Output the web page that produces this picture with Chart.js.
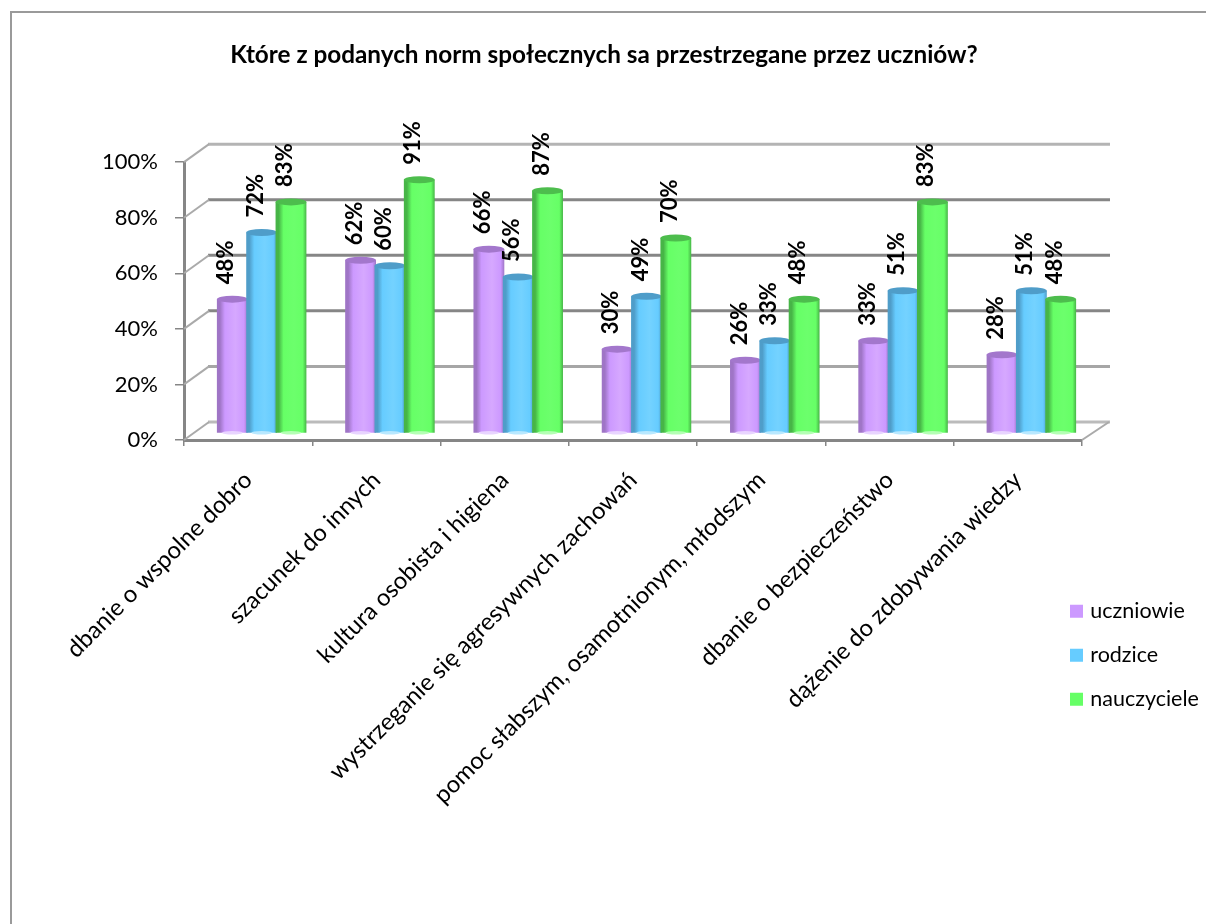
<!DOCTYPE html>
<html lang="pl"><head><meta charset="utf-8">
<style>html,body{margin:0;padding:0;background:#fff}canvas{display:block}</style>
<script src="https://cdn.jsdelivr.net/npm/chart.js@4"></script>
</head><body><canvas id="c" width="1206" height="924"></canvas>
<script>
const categories = ["dbanie o wspolne dobro","szacunek do innych","kultura osobista i higiena","wystrzeganie się agresywnych zachowań","pomoc słabszym, osamotnionym, młodszym","dbanie o bezpieczeństwo","dążenie do zdobywania wiedzy"];
const uczniowie = [48,62,66,30,26,33,28];
const rodzice = [72,60,56,49,33,51,51];
const nauczyciele = [83,91,87,70,48,83,48];
const seriesNames = ["uczniowie","rodzice","nauczyciele"];
const baseColors = ["#CC99FF","#66CCFF","#66FF66"];
const sideColors = ["#9F75C6","#4F9DC9","#47B547"];
const topColors = ["#A377CC","#4F9DC9","#4DBD4D"];
const lightColors = ["#D6A8FF","#74D2FF","#6CFF6C"];
const paleColors = ["#E8D4FF","#B8E8FF","#B4FFB4"];
const title = "Które z podanych norm społecznych sa przestrzegane przez uczniów?";
const yTicks = [0,20,40,60,80,100];
const gridColors = ["#BBBBBB","#A6A6A6","#868686","#868686","#868686","#B4B4B4"];
const FONT = "Lato";
const depth = {x:25,y:-18}, mid = {x:13.5,y:-7.5};

const frame3d = {
  id:'frame3d',
  afterLayout(chart){
    const t = chart.titleBlock; t.left = 0; t.right = 1208;
    const l = chart.legend;
    l.left = 1051; l.top = 578; l.right = l.left + l.width; l.bottom = l.top + l.height;
    l.adjustHitBoxes();
  },
  beforeDraw(chart){
    const c = chart.ctx; c.save();
    c.strokeStyle="#9A9A9A"; c.lineWidth=2;
    c.beginPath(); c.moveTo(11,924); c.lineTo(11,12); c.lineTo(1206,12); c.stroke();
    c.restore();
  },
  beforeDatasetsDraw(chart){
    const c = chart.ctx, y = chart.scales.y, a = chart.chartArea;
    c.save();
    yTicks.forEach((v,i)=>{
      const py = y.getPixelForValue(v);
      c.strokeStyle = gridColors[i]; c.lineWidth = 3;
      c.beginPath(); c.moveTo(a.left+depth.x-1, py+depth.y); c.lineTo(a.right+depth.x+3, py+depth.y); c.stroke();
      c.strokeStyle = "#AAAAAA"; c.lineWidth = 2;
      c.beginPath(); c.moveTo(a.left, py); c.lineTo(a.left+depth.x, py+depth.y); c.stroke();
    });
    const py0 = y.getPixelForValue(0);
    c.beginPath(); c.moveTo(a.right, py0); c.lineTo(a.right+depth.x+2, py0+depth.y); c.stroke();
    c.restore();
    c.save(); c.translate(mid.x, mid.y);
  },
  afterDatasetsDraw(chart){
    const c = chart.ctx;
    chart.data.datasets.forEach((ds,d)=>{
      chart.getDatasetMeta(d).data.forEach(el=>{
        const w = el.width+1.5, l = el.x-w/2, r = el.x+w/2, ry = 3.5;
        const g = c.createLinearGradient(l,0,r,0);
        g.addColorStop(0,sideColors[d]); g.addColorStop(.1,sideColors[d]);
        g.addColorStop(.26,baseColors[d]); g.addColorStop(.6,lightColors[d]);
        g.addColorStop(.88,baseColors[d]); g.addColorStop(1,sideColors[d]);
        c.fillStyle = g;
        c.fillRect(l, el.y, w, el.base-el.y+1);
        c.fillStyle = paleColors[d];
        c.beginPath(); c.ellipse(el.x, el.base+1, w*.33, 1.8, 0, 0, Math.PI*2); c.fill();
        c.fillStyle = topColors[d];
        c.beginPath(); c.ellipse(el.x, el.y, w/2, ry, 0, 0, Math.PI*2); c.fill();
      });
    });
    chart.data.datasets.forEach((ds,d)=>{
      chart.getDatasetMeta(d).data.forEach((el,i)=>{
        c.save();
        c.translate(el.x-6, el.y-15); c.rotate(-Math.PI/2);
        c.font = "bold 22px "+FONT; c.fillStyle="#000"; c.textAlign="left"; c.textBaseline="middle";
        c.fillText(ds.data[i]+"%",0,0);
        c.restore();
      });
    });
    c.restore();
  }
};

new Chart(document.getElementById('c'),{
  type:'bar',
  data:{labels:categories,datasets:[uczniowie,rodzice,nauczyciele].map((s,i)=>({
    label:seriesNames[i],data:s,backgroundColor:baseColors[i],
    categoryPercentage:.686,barPercentage:1,clip:false
  }))},
  plugins:[frame3d],
  options:{
    responsive:false,animation:false,
    layout:{padding:{left:0,top:41,right:124,bottom:0}},
    plugins:{
      tooltip:{enabled:false},
      title:{display:true,text:title,color:"#000",font:{family:FONT,size:24.3,weight:'bold'},padding:{top:0,bottom:92}},
      legend:{position:'chartArea',align:'start',labels:{
        color:"#000",font:{family:FONT,size:21.5},usePointStyle:true,pointStyle:'rect',
        boxWidth:6,boxHeight:13,padding:22.5
      }}
    },
    scales:{
      x:{
        grid:{drawOnChartArea:false,color:"#868686",tickLength:6,lineWidth:1.5},
        border:{color:"#868686",width:3},
        ticks:{color:"#000",font:{family:FONT,size:23.8},minRotation:45,maxRotation:45,autoSkip:false,padding:20},
        afterFit(s){s.height=924-440;}
      },
      y:{
        min:0,max:100,
        grid:{drawOnChartArea:false,color:"#868686",tickLength:9,lineWidth:1.5},
        border:{color:"#868686",width:3},
        ticks:{color:"#000",font:{family:FONT,size:22},stepSize:20,padding:17,callback:v=>v+"%"},
        afterFit(s){s.width=184;}
      }
    }
  }
});
</script></body></html>
